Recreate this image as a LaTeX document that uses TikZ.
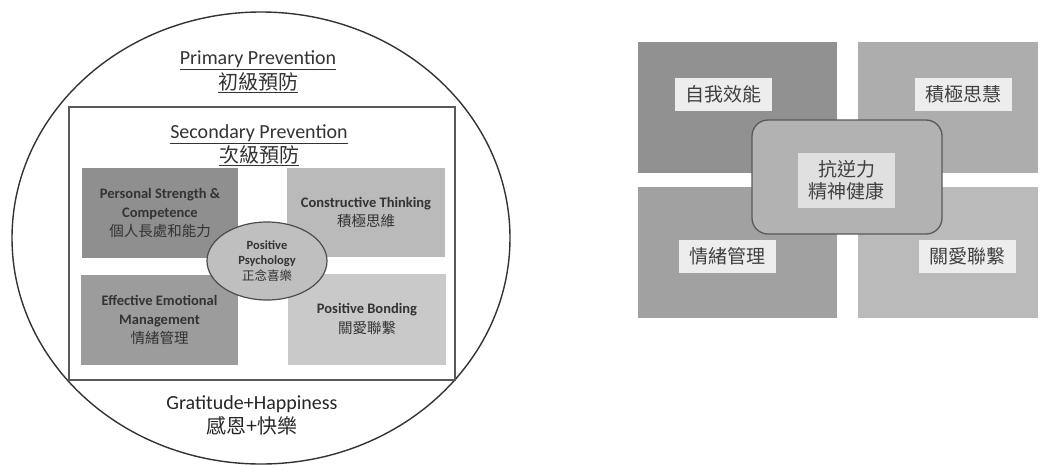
\documentclass[tikz,border=0pt]{standalone}
\usepackage{fontspec}
\setmainfont{Carlito}
\newfontfamily\cjk{Noto Sans CJK TC}
\usetikzlibrary{shapes.geometric}
\definecolor{inkdark}{HTML}{333333}
\begin{document}
\begin{tikzpicture}[x=1pt,y=-1pt,
    frame/.style={draw=black!65,line width=1.3pt},
    block/.style={inner sep=0pt,align=center,text=inkdark},
    tag/.style={fill=black!7,inner sep=0pt,minimum width=97pt,minimum height=33pt,
      font=\cjk\fontsize{19}{22}\selectfont,text=black!75}]
  \useasboundingbox (0,0) rectangle (1043,464);
  % left picture
  \node[draw=inkdark,line width=1.4pt,ellipse,inner sep=0pt,
    minimum width=498pt,minimum height=452pt] (outer) at (261,238) {};
  \node[frame,inner sep=0pt,minimum width=386pt,minimum height=273pt] (sec) at (262,243.5) {};
  \node[block,font=\fontsize{20}{25}\selectfont] (prim) at (258,72)
    {\underline{Primary Prevention}\\{\cjk\underline{初級預防}}};
  \node[block,font=\fontsize{20}{24}\selectfont] (sectitle) at (259,145)
    {\underline{Secondary Prevention}\\{\cjk\underline{次級預防}}};
  \node[block,fill=black!44,minimum width=156pt,minimum height=90pt,
    font=\fontsize{14.5}{19}\selectfont] (pers) at (160,213)
    {\bfseries Personal Strength \&\\\bfseries Competence\\{\cjk 個人長處和能力}};
  \node[block,fill=black!27,minimum width=158pt,minimum height=89pt,
    font=\fontsize{14.5}{19}\selectfont] (cons) at (366,212.5)
    {\bfseries Constructive Thinking\\{\cjk 積極思維}};
  \node[block,fill=black!39,minimum width=157pt,minimum height=90pt,
    font=\fontsize{14.5}{19}\selectfont] (emot) at (159.5,320)
    {\bfseries Effective Emotional\\\bfseries Management\\{\cjk 情緒管理}};
  \node[block,fill=black!21,minimum width=158pt,minimum height=91pt,
    font=\fontsize{14.5}{20}\selectfont] (bond) at (367,319.5)
    {\bfseries Positive Bonding\\{\cjk 關愛聯繫}};
  \node[block,ellipse,draw=black!70,line width=1.2pt,fill=black!25,
    minimum width=120pt,minimum height=78pt,
    font=\fontsize{12.5}{15.5}\selectfont] (psy) at (267,261)
    {\bfseries Positive\\\bfseries Psychology\\{\cjk 正念喜樂}};
  \node[block,text=black!85,font=\fontsize{20}{24}\selectfont] (grat) at (252,415)
    {Gratitude+Happiness\\{\cjk 感恩+快樂}};
  % right picture
  \node[fill=black!43,minimum width=199pt,minimum height=131pt] (eff) at (737.5,107.5) {};
  \node[fill=black!32,minimum width=180pt,minimum height=131pt] (think) at (948,107.5) {};
  \node[fill=black!37,minimum width=199pt,minimum height=131pt] (mood) at (737.5,252.5) {};
  \node[fill=black!27,minimum width=180pt,minimum height=131pt] (care) at (948,252.5) {};
  \node[draw=black!65,line width=1.3pt,fill=black!30,rounded corners=16pt,
    minimum width=190pt,minimum height=114pt] (core) at (847,177) {};
  \node[tag] (effl) at (723.5,94.5) {自我效能};
  \node[tag] (thinkl) at (963,94.5) {積極思慧};
  \node[tag] (moodl) at (727.5,256) {情緒管理};
  \node[tag] (carel) at (967.5,256) {關愛聯繫};
  \node[tag,fill=black!12,minimum height=55pt,align=center,
    font=\cjk\fontsize{19}{22}\selectfont] (corel) at (846.5,180.5) {抗逆力\\精神健康};
\end{tikzpicture}
\end{document}
